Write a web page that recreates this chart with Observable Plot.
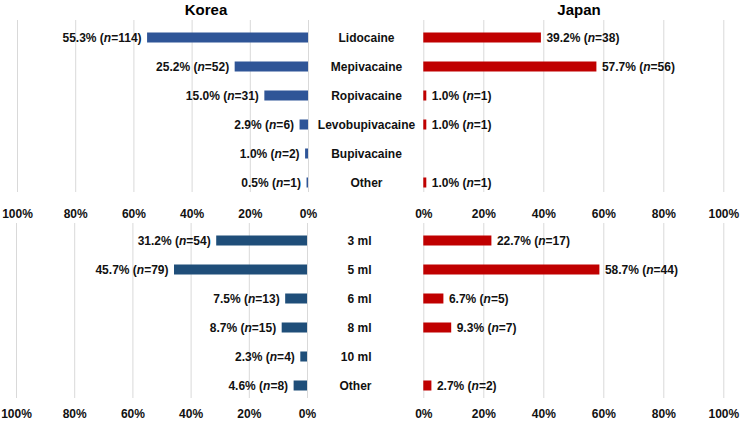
<!DOCTYPE html>
<html>
<head>
<meta charset="utf-8">
<script src="https://cdn.jsdelivr.net/npm/d3@7"></script>
<script src="https://cdn.jsdelivr.net/npm/@observablehq/plot@0.6"></script>
<style>
  html, body { margin: 0; padding: 0; background: #fff; }
  #chart { position: relative; width: 740px; height: 421px; font-family: "Liberation Sans", Arial, sans-serif; color: #000; overflow: hidden; }
  #chart svg { position: absolute; left: 0; background: transparent; }
  .title { position: absolute; top: 0; font-weight: bold; font-size: 15px; text-align: center; line-height: 20px; }
</style>
</head>
<body>
<div id="chart">
  <div class="title" style="left:156px;width:100px;">Korea</div>
  <div class="title" style="left:529px;width:100px;">Japan</div>
</div>
<script>
// ---- data ----
const anesthetics = ["Lidocaine", "Mepivacaine", "Ropivacaine", "Levobupivacaine", "Bupivacaine", "Other"];
const koreaAnesPct = [55.3, 25.2, 15.0, 2.9, 1.0, 0.5];
const koreaAnesN   = [114, 52, 31, 6, 2, 1];
const japanAnesPct = [39.2, 57.7, 1.0, 1.0, null, 1.0];
const japanAnesN   = [38, 56, 1, 1, null, 1];

const volumes = ["3 ml", "5 ml", "6 ml", "8 ml", "10 ml", "Other"];
const koreaVolPct = [31.2, 45.7, 7.5, 8.7, 2.3, 4.6];
const koreaVolN   = [54, 79, 13, 15, 4, 8];
const japanVolPct = [22.7, 58.7, 6.7, 9.3, null, 2.7];
const japanVolN   = [17, 44, 5, 7, null, 2];

const xTicks = [0, 20, 40, 60, 80, 100];

// ---- drawing ----
const chart = document.getElementById("chart");

function italicN(svg) {
  svg.querySelectorAll("g.pct text").forEach(t => {
    const s = t.textContent;
    const m = s.match(/^(.*\()n(=.*)$/);
    if (!m) return;
    t.textContent = "";
    const ns = "http://www.w3.org/2000/svg";
    const a = document.createElementNS(ns, "tspan"); a.textContent = m[1];
    const b = document.createElementNS(ns, "tspan"); b.textContent = "n"; b.setAttribute("font-style", "italic");
    const c = document.createElementNS(ns, "tspan"); c.textContent = m[2];
    t.append(a, b, c);
  });
}

function panel({cats, pct, n, color, xRange, yRange, height, marginTop, marginBottom, tickPadding, side, catAnchor, catDx, top}) {
  const rows = cats.map((c, i) => ({cat: c, pct: pct[i], n: n[i]})).filter(d => d.pct != null);
  const left = side === "left";
  const marks = [
    Plot.ruleX(xTicks, {stroke: "#d9d9d9", strokeWidth: 1}),
    Plot.barX(rows, {x: "pct", y: "cat", fill: color, insetTop: 9.5, insetBottom: 9.5}),
    Plot.text(rows, {
      x: "pct", y: "cat",
      text: d => `${d.pct.toFixed(1)}% (n=${d.n})`,
      textAnchor: left ? "end" : "start",
      dx: left ? -6 : 5,
      fill: "#111",
      className: "pct"
    }),
    Plot.axisX(xTicks, {tickFormat: d => d + "%", tickSize: 0, tickPadding, fill: "#111", label: null})
  ];
  if (catAnchor) {
    marks.push(Plot.text(cats, {y: d => d, text: d => d, frameAnchor: "middle", textAnchor: catAnchor, dx: catDx, fill: "#111"}));
  }
  const svg = Plot.plot({
    width: 740, height,
    marginLeft: 0, marginRight: 0, marginTop, marginBottom,
    style: {fontFamily: '"Liberation Sans", Arial, sans-serif', fontSize: "12px", fontWeight: "bold", background: "transparent", color: "#111"},
    x: {domain: [0, 100], range: xRange, label: null},
    y: {type: "band", domain: cats, range: yRange, padding: 0, axis: null},
    marks
  });
  svg.style.top = top + "px";
  italicN(svg);
  chart.appendChild(svg);
}

// top row: anesthetics
panel({cats: anesthetics, pct: koreaAnesPct, n: koreaAnesN, color: "#2F5597",
  xRange: [308, 17], yRange: [21, 198], height: 221, marginTop: 20, marginBottom: 29,
  tickPadding: 17, side: "left", catAnchor: "middle", catDx: -4, top: 0});
panel({cats: anesthetics, pct: japanAnesPct, n: japanAnesN, color: "#C00000",
  xRange: [423.3, 723.3], yRange: [21, 198], height: 221, marginTop: 20, marginBottom: 29,
  tickPadding: 17, side: "right", top: 0});

// bottom row: volumes
panel({cats: volumes, pct: koreaVolPct, n: koreaVolN, color: "#1F4E79",
  xRange: [307, 16], yRange: [24.5, 200.5], height: 221, marginTop: 23, marginBottom: 23,
  tickPadding: 11, side: "left", catAnchor: "end", catDx: 1, top: 200});
panel({cats: volumes, pct: japanVolPct, n: japanVolN, color: "#C00000",
  xRange: [423.3, 723.3], yRange: [24.5, 200.5], height: 221, marginTop: 23, marginBottom: 23,
  tickPadding: 11, side: "right", top: 200});
</script>
</body>
</html>
